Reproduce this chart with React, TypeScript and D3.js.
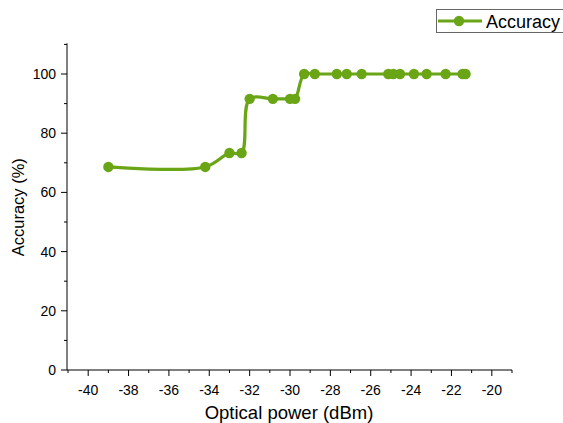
import React from "react";
import * as d3 from "d3";

// optical power (dBm) vs accuracy (%)
const powers = [-39, -34.2, -33.0, -32.4, -32.0, -30.85, -30.0, -29.75, -29.3, -28.77, -27.68, -27.19, -26.45, -25.13, -24.88, -24.55, -23.86, -23.23, -22.29, -21.45, -21.3];
const accuracy = [68.6, 68.6, 73.3, 73.3, 91.6, 91.6, 91.6, 91.6, 100, 100, 100, 100, 100, 100, 100, 100, 100, 100, 100, 100, 100];
const xTicks = [-40, -38, -36, -34, -32, -30, -28, -26, -24, -22, -20];
const yTicks = [0, 20, 40, 60, 80, 100];
const seriesName = "Accuracy";

const W = 563;
const H = 423;
const green = "#6aa516";
const font = "Liberation Sans, Arial, sans-serif";

export default function App() {
  const x = d3.scaleLinear().domain([-41.05, -19]).range([67, 512]);
  const y = d3.scaleLinear().domain([0, 110]).range([370, 44.4]);

  const pts: [number, number][] = powers.map((p, i) => [x(p), y(accuracy[i])]);
  const line = d3.line().curve(d3.curveCatmullRom.alpha(0.5))(pts) || "";

  const xMinor = d3.range(-41, -18, 1).filter((v) => !xTicks.includes(v));
  const yMinor = d3.range(10, 111, 20);

  return (
    <svg width={W} height={H} style={{ position: "fixed", left: 0, top: 0, background: "#fff" }} fontFamily={font}>
      {/* axes */}
      <line x1={x.range()[0]} x2={x.range()[1]} y1={370} y2={370} stroke="#000" strokeWidth={1} />
      <line x1={67} x2={67} y1={y.range()[1] - 1} y2={370} stroke="#000" strokeWidth={1} />
      {xTicks.map((t) => (
        <g key={"x" + t}>
          <line x1={x(t)} x2={x(t)} y1={370} y2={376} stroke="#000" />
          <text x={x(t)} y={395} fontSize={14} textAnchor="middle" fill="#000">{t}</text>
        </g>
      ))}
      {xMinor.map((t) => (
        <line key={"xm" + t} x1={x(t)} x2={x(t)} y1={370} y2={373} stroke="#000" />
      ))}
      {yTicks.map((t) => (
        <g key={"y" + t}>
          <line x1={61} x2={67} y1={y(t)} y2={y(t)} stroke="#000" />
          <text x={56} y={y(t) + 5} fontSize={14} textAnchor="end" fill="#000">{t}</text>
        </g>
      ))}
      {yMinor.map((t) => (
        <line key={"ym" + t} x1={64} x2={67} y1={y(t)} y2={y(t)} stroke="#000" />
      ))}
      <text x={289} y={419} fontSize={18.5} textAnchor="middle" fill="#000">Optical power (dBm)</text>
      <text transform={`translate(24,${y(55)}) rotate(-90)`} fontSize={16.5} textAnchor="middle" fill="#000">Accuracy (%)</text>

      {/* series */}
      <path d={line} fill="none" stroke={green} strokeWidth={3.2} strokeLinejoin="round" />
      {pts.map((p, i) => (
        <circle key={i} cx={p[0]} cy={p[1]} r={5.2} fill={green} />
      ))}

      {/* legend */}
      <rect x={436.5} y={9.5} width={140} height={23} fill="#fff" stroke="#666" strokeWidth={1} />
      <line x1={438} x2={482} y1={21} y2={21} stroke={green} strokeWidth={3.2} />
      <circle cx={459} cy={21} r={5.2} fill={green} />
      <text x={486} y={27.5} fontSize={18} fill="#000">{seriesName}</text>
    </svg>
  );
}
